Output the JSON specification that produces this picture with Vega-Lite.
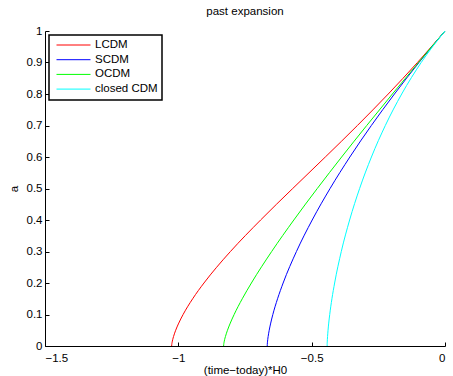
{
  "$schema": "https://vega.github.io/schema/vega-lite/v6.json",
  "width": 400,
  "height": 315,
  "autosize": {"type": "none"},
  "padding": {"left": 45, "top": 31, "right": 8, "bottom": 30},
  "background": "white",
  "title": {"text": "past expansion", "fontSize": 11.5, "font": "Liberation Sans", "fontWeight": "normal", "color": "#000000", "offset": 8},
  "config": {
    "view": {"stroke": null},
    "font": "Liberation Sans",
    "axis": {
      "domainColor": "#000000", "domainWidth": 1, "tickColor": "#000000", "tickSize": -4, "tickWidth": 1,
      "labelFontSize": 11.5, "labelColor": "#000000", "labelFont": "Liberation Sans",
      "titleFontSize": 11.5, "titleFontWeight": "normal", "titleColor": "#000000", "titleFont": "Liberation Sans",
      "grid": false
    }
  },
  "datasets": {
    "curves": [
      {"model": "LCDM", "a": 0, "x": -1.0251}, {"model": "LCDM", "a": 0.005, "x": -1.0246}, {"model": "LCDM", "a": 0.01, "x": -1.0237},
      {"model": "LCDM", "a": 0.02, "x": -1.0212}, {"model": "LCDM", "a": 0.03, "x": -1.018}, {"model": "LCDM", "a": 0.05, "x": -1.0099},
      {"model": "LCDM", "a": 0.07, "x": -0.9999}, {"model": "LCDM", "a": 0.1, "x": -0.9821}, {"model": "LCDM", "a": 0.15, "x": -0.9462},
      {"model": "LCDM", "a": 0.2, "x": -0.9039}, {"model": "LCDM", "a": 0.25, "x": -0.8564}, {"model": "LCDM", "a": 0.3, "x": -0.8046},
      {"model": "LCDM", "a": 0.4, "x": -0.6915}, {"model": "LCDM", "a": 0.5, "x": -0.5711}, {"model": "LCDM", "a": 0.6, "x": -0.4488},
      {"model": "LCDM", "a": 0.7, "x": -0.3285}, {"model": "LCDM", "a": 0.8, "x": -0.2129}, {"model": "LCDM", "a": 0.9, "x": -0.1033},
      {"model": "LCDM", "a": 1, "x": 0},
      {"model": "SCDM", "a": 0, "x": -0.6667}, {"model": "SCDM", "a": 0.005, "x": -0.6664}, {"model": "SCDM", "a": 0.01, "x": -0.666},
      {"model": "SCDM", "a": 0.02, "x": -0.6648}, {"model": "SCDM", "a": 0.03, "x": -0.6632}, {"model": "SCDM", "a": 0.05, "x": -0.6592},
      {"model": "SCDM", "a": 0.07, "x": -0.6543}, {"model": "SCDM", "a": 0.1, "x": -0.6456}, {"model": "SCDM", "a": 0.15, "x": -0.6279},
      {"model": "SCDM", "a": 0.2, "x": -0.607}, {"model": "SCDM", "a": 0.3, "x": -0.5571}, {"model": "SCDM", "a": 0.4, "x": -0.498},
      {"model": "SCDM", "a": 0.5, "x": -0.431}, {"model": "SCDM", "a": 0.6, "x": -0.3568}, {"model": "SCDM", "a": 0.7, "x": -0.2762},
      {"model": "SCDM", "a": 0.8, "x": -0.1896}, {"model": "SCDM", "a": 0.9, "x": -0.0975}, {"model": "SCDM", "a": 1, "x": 0},
      {"model": "OCDM", "a": 0, "x": -0.8302}, {"model": "OCDM", "a": 0.005, "x": -0.8298}, {"model": "OCDM", "a": 0.01, "x": -0.8289},
      {"model": "OCDM", "a": 0.02, "x": -0.8265}, {"model": "OCDM", "a": 0.03, "x": -0.8234}, {"model": "OCDM", "a": 0.05, "x": -0.8157},
      {"model": "OCDM", "a": 0.07, "x": -0.8065}, {"model": "OCDM", "a": 0.1, "x": -0.7907}, {"model": "OCDM", "a": 0.15, "x": -0.7602},
      {"model": "OCDM", "a": 0.2, "x": -0.726}, {"model": "OCDM", "a": 0.3, "x": -0.65}, {"model": "OCDM", "a": 0.4, "x": -0.5669},
      {"model": "OCDM", "a": 0.5, "x": -0.479}, {"model": "OCDM", "a": 0.6, "x": -0.3876}, {"model": "OCDM", "a": 0.7, "x": -0.2935},
      {"model": "OCDM", "a": 0.8, "x": -0.1973}, {"model": "OCDM", "a": 0.9, "x": -0.0994}, {"model": "OCDM", "a": 1, "x": 0},
      {"model": "closed CDM", "a": 0, "x": -0.442}, {"model": "closed CDM", "a": 0.005, "x": -0.4419}, {"model": "closed CDM", "a": 0.01, "x": -0.4417},
      {"model": "closed CDM", "a": 0.02, "x": -0.4411}, {"model": "closed CDM", "a": 0.03, "x": -0.4404}, {"model": "closed CDM", "a": 0.05, "x": -0.4386},
      {"model": "closed CDM", "a": 0.07, "x": -0.4364}, {"model": "closed CDM", "a": 0.1, "x": -0.4323}, {"model": "closed CDM", "a": 0.15, "x": -0.424},
      {"model": "closed CDM", "a": 0.2, "x": -0.4139}, {"model": "closed CDM", "a": 0.3, "x": -0.3889}, {"model": "closed CDM", "a": 0.4, "x": -0.3577},
      {"model": "closed CDM", "a": 0.5, "x": -0.3202}, {"model": "closed CDM", "a": 0.6, "x": -0.2759}, {"model": "closed CDM", "a": 0.7, "x": -0.2238},
      {"model": "closed CDM", "a": 0.8, "x": -0.1624}, {"model": "closed CDM", "a": 0.9, "x": -0.0892}, {"model": "closed CDM", "a": 1, "x": 0}
    ]
  },
  "data": {"name": "curves"},
  "mark": {"type": "line", "strokeWidth": 1, "interpolate": "monotone"},
  "encoding": {
    "x": {
      "field": "x", "type": "quantitative",
      "scale": {"domain": [-1.5, 0], "nice": false, "zero": false},
      "axis": {"values": [-1.5, -1, -0.5, 0], "format": "~g", "title": "(time−today)*H0", "labelPadding": 10, "titlePadding": 1}
    },
    "y": {
      "field": "a", "type": "quantitative",
      "scale": {"domain": [0, 1], "nice": false},
      "axis": {"values": [0, 0.1, 0.2, 0.3, 0.4, 0.5, 0.6, 0.7, 0.8, 0.9, 1], "format": "~g", "title": "a", "labelPadding": 7, "titlePadding": 7}
    },
    "color": {
      "field": "model", "type": "nominal",
      "scale": {"domain": ["LCDM", "SCDM", "OCDM", "closed CDM"], "range": ["#ff0000", "#0000ff", "#00ff00", "#00ffff"]},
      "legend": {
        "title": null, "orient": "none", "legendX": 4, "legendY": 4,
        "symbolType": "stroke", "symbolSize": 1156, "symbolStrokeWidth": 1,
        "labelFontSize": 11.5, "labelColor": "#000000", "labelFont": "Liberation Sans", "labelOffset": 4,
        "padding": 4, "rowPadding": 2.7, "symbolOffset": 3, "clipHeight": 12,
        "strokeColor": "#000000", "fillColor": "#ffffff",
        "encode": {"legend": {"update": {"strokeWidth": {"value": 1.5}}}}
      }
    }
  }
}
